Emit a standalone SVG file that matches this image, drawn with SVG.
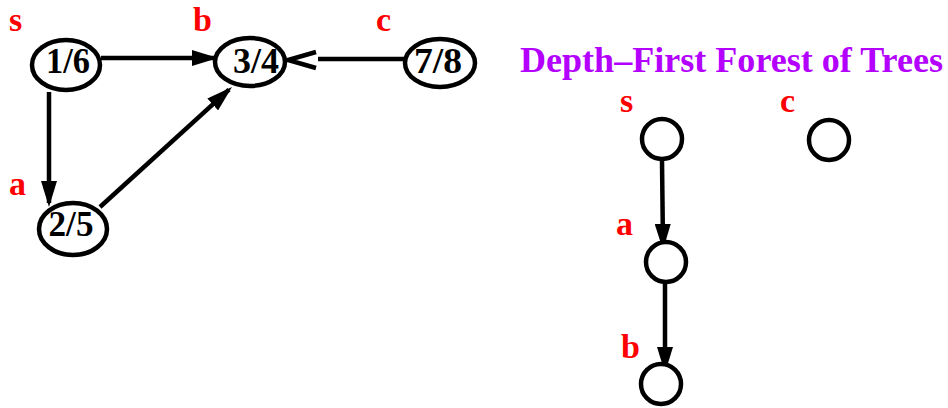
<svg xmlns="http://www.w3.org/2000/svg" width="948" height="408" viewBox="0 0 948 408">
  <style>
    .node { fill: #fff; stroke: #000; stroke-width: 4.5; }
    .val { font-family: "Liberation Serif", serif; font-weight: bold; font-size: 35px; fill: #000; text-anchor: middle; }
    .lbl { font-family: "Liberation Serif", serif; font-weight: bold; font-size: 34px; fill: #ff0000; }
    .title { font-family: "Liberation Serif", serif; font-weight: bold; font-size: 35px; fill: #b300ff; }
    .edge { stroke: #000; stroke-width: 4.5; fill: none; }
  </style>
  <defs>
    <marker id="arrow" viewBox="0 0 26 16" refX="22" refY="8" markerWidth="26" markerHeight="16" markerUnits="userSpaceOnUse" orient="auto">
      <path d="M0,0 L26,8 L0,16 z" fill="#000"/>
    </marker>
  </defs>

  <rect width="948" height="408" fill="#fff"/>

  <!-- graph with discovery/finish times -->
  <g id="connectors">
    <line class="edge" x1="101" y1="58" x2="214" y2="58" marker-end="url(#arrow)"/>
    <line class="edge" x1="49" y1="92" x2="49" y2="203" marker-end="url(#arrow)"/>
    <line class="edge" x1="100" y1="207" x2="229" y2="89.7" marker-end="url(#arrow)"/>
    <line class="edge" x1="318" y1="59" x2="404" y2="59"/>
    <polyline class="edge" points="316,52 288,60 316,68"/>
    <!-- forest edges -->
    <line class="edge" x1="662" y1="161" x2="663" y2="246" marker-end="url(#arrow)"/>
    <line class="edge" x1="665" y1="283" x2="665" y2="369" marker-end="url(#arrow)"/>
  </g>

  <g id="node-s">
    <ellipse class="node" cx="66" cy="65" rx="34" ry="25"/>
    <text class="val" x="68" y="73" textLength="44" lengthAdjust="spacingAndGlyphs">1/6</text>
    <text class="lbl" x="9" y="31">s</text>
  </g>
  <g id="node-b">
    <ellipse class="node" cx="250" cy="62" rx="35" ry="24"/>
    <text class="val" x="256" y="73" textLength="46" lengthAdjust="spacingAndGlyphs">3/4</text>
    <text class="lbl" x="193" y="31">b</text>
  </g>
  <g id="node-c">
    <ellipse class="node" cx="440" cy="63" rx="35" ry="24"/>
    <text class="val" x="438" y="73" textLength="48" lengthAdjust="spacingAndGlyphs">7/8</text>
    <text class="lbl" x="376" y="31">c</text>
  </g>
  <g id="node-a">
    <ellipse class="node" cx="73" cy="229" rx="34" ry="26"/>
    <text class="val" x="71" y="236" textLength="45" lengthAdjust="spacingAndGlyphs">2/5</text>
    <text class="lbl" x="9" y="195">a</text>
  </g>

  <!-- depth-first forest -->
  <text class="title" x="520" y="72" textLength="423" lengthAdjust="spacingAndGlyphs">Depth–First Forest of Trees</text>

  <g id="tree-s">
    <circle class="node" cx="662" cy="139" r="20"/>
    <text class="lbl" x="620" y="112">s</text>
  </g>
  <g id="tree-c">
    <circle class="node" cx="829" cy="140" r="20"/>
    <text class="lbl" x="780" y="112">c</text>
  </g>
  <g id="tree-a">
    <circle class="node" cx="666" cy="262" r="20"/>
    <text class="lbl" x="616" y="235">a</text>
  </g>
  <g id="tree-b">
    <circle class="node" cx="661" cy="384" r="20"/>
    <text class="lbl" x="621" y="358">b</text>
  </g>
</svg>
